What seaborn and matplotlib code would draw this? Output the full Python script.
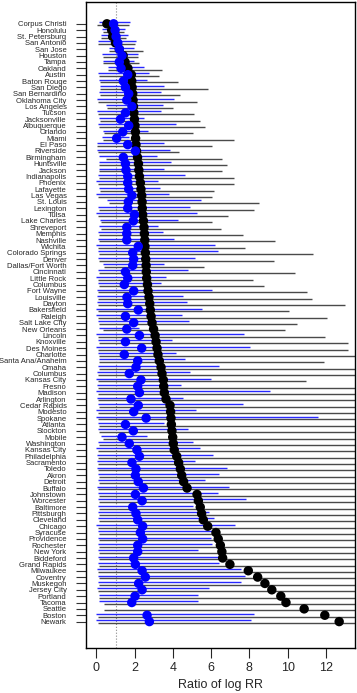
import numpy as np
import pandas as pd
import matplotlib
matplotlib.use("Agg")
import matplotlib.pyplot as plt
import seaborn as sns

# ── Data ──────────────────────────────────────────────────────────────────────

CITIES = [
    "Corpus Christi", "Honolulu", "St. Petersburg", "San Antonio", "San Jose",
    "Houston", "Tampa", "Oakland", "Austin", "Baton Rouge", "San Diego",
    "San Bernardino", "Oklahoma City", "Los Angeles", "Tucson", "Jacksonville",
    "Albuquerque", "Orlando", "Miami", "El Paso", "Riverside", "Birmingham",
    "Huntsville", "Jackson", "Indianapolis", "Phoenix", "Lafayette", "Las Vegas",
    "St. Louis", "Lexington", "Tulsa", "Lake Charles", "Shreveport", "Memphis",
    "Nashville", "Wichita", "Colorado Springs", "Denver", "Dallas/Fort Worth",
    "Cincinnati", "Little Rock", "Columbus", "Fort Wayne", "Louisville", "Dayton",
    "Bakersfield", "Raleigh", "Salt Lake City", "New Orleans", "Lincoln",
    "Knoxville", "Des Moines", "Charlotte", "Santa Ana/Anaheim", "Omaha",
    "Columbus", "Kansas City", "Fresno", "Madison", "Arlington", "Cedar Rapids",
    "Modesto", "Spokane", "Atlanta", "Stockton", "Mobile", "Washington",
    "Kansas City", "Philadelphia", "Sacramento", "Toledo", "Akron", "Detroit",
    "Buffalo", "Johnstown", "Worcester", "Baltimore", "Pittsburgh", "Cleveland",
    "Chicago", "Syracuse", "Providence", "Rochester", "New York", "Biddeford",
    "Grand Rapids", "Milwaukee", "Coventry", "Muskegon", "Jersey City",
    "Portland", "Tacoma", "Seattle", "Boston", "Newark",
]

BLACK_EST = [
    0.55, 0.80, 0.85, 1.00, 1.20, 1.40, 1.50, 1.65,
    1.83, 1.85, 1.87, 1.90, 1.92, 1.94, 1.96, 1.99, 2.02, 2.04, 2.05, 2.07,
    2.10, 2.15, 2.20,
    2.22, 2.25, 2.30, 2.33, 2.37, 2.39, 2.40, 2.42, 2.46, 2.49, 2.51, 2.53,
    2.54, 2.56, 2.58, 2.60, 2.61, 2.63, 2.67, 2.70, 2.75, 2.79, 2.82, 2.86,
    2.91, 2.99, 3.07, 3.12, 3.17, 3.22, 3.29, 3.38, 3.43, 3.50, 3.52, 3.55,
    3.64, 3.85, 3.88, 3.90, 3.92, 3.95, 3.99, 4.02, 4.07, 4.20, 4.30, 4.39,
    4.46, 4.56, 4.74, 5.26, 5.33, 5.43, 5.50, 5.59, 5.82, 6.25, 6.37, 6.48,
    6.56, 6.60, 6.98, 7.94, 8.43, 8.81, 9.17, 9.64, 9.91, 10.86, 11.94, 12.69,
]
BLACK_LO = [
    0.02, 0.33, 0.25, 0.07, 0.65, 0.33, 0.33, 0.59, 0.12, 0.19, 0.19, 0.19,
    0.07, 0.54, 0.07, 0.19, 0.12, 0.42, 0.33, 0.04, 0.07, 0.51, 0.16,
    0.16, 0.16, 0.07, 0.19, 0.07, 0.65, 0.16, 0.07, 0.25, 0.25, 0.12, 0.12,
    0.07, 0.12, 0.12, 0.42, 0.16, 0.07, 0.16, 0.07, 0.07, 0.07, 0.07, 0.07,
    0.16, 0.33, 0.07, 0.16, 0.07, 0.12, 0.16, 0.12, 0.07, 0.07, 0.07, 0.07,
    0.07, 0.12, 0.07, 0.07, 0.16, 0.16, 0.33, 0.12, 0.07, 0.07, 0.07, 0.07,
    0.16, 0.16, 0.07, 0.16, 0.16, 0.16, 0.12, 0.12, 0.07, 0.12, 0.12, 0.16,
    0.16, 0.16, 0.16, 0.07, 0.16, 0.16, 0.07, 0.16, 0.42, 0.42, 0.07, 0.07,
]
BLACK_HI = [
    1.73, 1.46, 1.55, 2.04, 2.46, 2.16, 2.25, 3.43, 3.26, 4.25, 5.82, 4.37,
    5.24, 3.99, 5.12, 5.42, 5.69, 5.03, 7.21, 6.04, 4.30, 6.55, 6.81,
    6.55, 7.21, 7.21, 6.16, 6.04, 8.52, 8.22, 6.90, 6.03, 6.51, 7.64, 9.33,
    7.79, 11.30, 9.26, 5.61, 10.40, 8.17, 8.78, 10.99, 11.27, 13.00, 10.05, 12.08,
    10.46, 9.86, 11.94, 13.13, 13.13, 14.0, 11.91, 14.0, 14.0, 10.95, 14.0, 14.0,
    14.0, 14.0, 14.0, 14.0, 14.0, 14.0, 14.0, 14.0, 14.0, 14.0, 14.0, 14.0,
    14.0, 14.0, 14.0, 14.0, 14.0, 14.0, 14.0, 14.0, 14.0, 14.0, 14.0, 14.0,
    14.0, 14.0, 14.0, 14.0, 14.0, 14.0, 14.0, 14.0, 14.0, 14.0, 14.0, 14.0,
]

BLUE_EST = [
    0.90, 0.98, 1.03, 1.12, 1.20, 1.34, 1.20, 1.29, 1.64, 1.41, 1.52, 1.69,
    1.59, 1.86, 1.52, 1.26, 1.69, 1.38, 1.06, 1.64, 2.04, 1.41, 1.52,
    1.55, 1.64, 1.64, 1.69, 1.86, 1.67, 1.64, 1.99, 1.93, 1.59, 1.59, 1.59,
    2.19, 1.90, 1.95, 1.90, 1.52, 1.64, 1.46, 1.95, 1.60, 1.64, 2.19, 1.52,
    1.95, 1.59, 2.25, 1.52, 2.37, 1.46, 2.16, 2.07, 1.72, 2.33, 2.16, 2.25,
    1.81, 2.19, 1.95, 2.60, 1.52, 1.93, 1.34, 1.72, 2.12, 2.25, 1.86, 2.07,
    2.04, 2.19, 2.46, 2.04, 2.39, 1.90, 2.07, 2.16, 2.42, 2.30, 2.42, 2.16,
    2.16, 1.95, 2.04, 2.39, 2.56, 2.21, 2.39, 2.02, 1.85, np.nan, 2.65, 2.77,
]
BLUE_LO = [
    0.12, 0.30, 0.25, 0.07, 0.68, 0.30, 0.33, 0.59, 0.07, 0.16, 0.19, 0.16,
    0.02, 0.51, 0.02, 0.16, 0.07, 0.33, 0.30, 0.02, 0.02, 0.12, 0.12,
    0.12, 0.07, 0.00, 0.16, 0.00, 0.54, 0.07, 0.00, 0.19, 0.16, 0.07, 0.07,
    0.00, 0.07, 0.07, 0.37, 0.07, 0.00, 0.07, 0.02, 0.02, 0.02, 0.00, 0.00,
    0.07, 0.16, 0.00, 0.07, 0.00, 0.07, 0.12, 0.07, 0.02, 0.00, 0.02, 0.00,
    0.02, 0.07, 0.00, 0.00, 0.07, 0.07, 0.25, 0.07, 0.00, 0.02, 0.02, 0.02,
    0.07, 0.07, 0.02, 0.07, 0.07, 0.07, 0.07, 0.07, 0.00, 0.07, 0.07, 0.07,
    0.07, 0.07, 0.07, 0.02, 0.07, 0.07, 0.02, 0.12, 0.12, np.nan, 0.00, 0.00,
]
BLUE_HI = [
    1.76, 1.52, 1.67, 2.07, 1.99, 2.20, 1.99, 2.51, 2.73, 2.63, 3.55, 3.38,
    4.07, 3.50, 3.38, 2.51, 4.16, 2.72, 1.69, 3.52, 3.87, 3.15, 3.90,
    3.52, 4.65, 3.24, 3.33, 3.78, 5.47, 4.89, 5.26, 4.25, 3.20, 3.47, 4.04,
    6.20, 6.34, 5.17, 3.52, 4.81, 3.64, 3.38, 6.04, 4.51, 4.74, 5.50, 4.46,
    4.82, 2.25, 7.73, 3.95, 8.03, 4.16, 4.65, 6.43, 4.91, 5.99, 4.42, 9.07,
    4.51, 7.68, 5.21, 11.56, 3.52, 4.81, 2.63, 5.03, 5.42, 6.11, 5.16, 6.81,
    6.43, 5.69, 6.91, 6.37, 7.82, 5.07, 5.90, 6.17, 7.26, 6.08, 5.99, 6.04,
    5.30, 6.43, 6.43, 7.56, 7.78, 7.56, 5.87, 5.30, 5.33, np.nan, 8.25, 8.08,
]

# ── Style ─────────────────────────────────────────────────────────────────────

sns.set_style("ticks")
plt.rcParams["font.family"] = ["Liberation Sans", "DejaVu Sans"]

df = pd.DataFrame({
    "city": CITIES,
    "row": np.arange(len(CITIES)),
    "black_est": BLACK_EST, "black_lo": BLACK_LO, "black_hi": BLACK_HI,
    "blue_est": BLUE_EST, "blue_lo": BLUE_LO, "blue_hi": BLUE_HI,
})
blue_df = df.dropna(subset=["blue_est"])

fig = plt.figure(figsize=(3.57, 6.93), dpi=100)
ax = fig.add_axes([0.241, 0.0654, 0.753, 0.932])

# interval lines: blue just above the row, black just below
ax.hlines(df["row"] + 0.22, df["black_lo"], df["black_hi"],
          color="#4a4a4a", lw=1.0, zorder=1)
ax.hlines(blue_df["row"] - 0.22, blue_df["blue_lo"], blue_df["blue_hi"],
          color="#2828ff", lw=1.0, zorder=2)
ax.axvline(1, color="#888888", ls=":", lw=0.8, zorder=0)

sns.scatterplot(data=df, x="black_est", y="row", color="black", s=46,
                edgecolor="none", ax=ax, zorder=3, legend=False)
sns.scatterplot(data=blue_df, x="blue_est", y="row", color="#0000ff", s=46,
                edgecolor="none", ax=ax, zorder=4, legend=False)

ax.set_xlim(-0.54, 13.51)
ax.set_ylim(98.1, -3.46)
ax.set_xticks(np.arange(0, 13, 2))
ax.set_xticklabels([str(v) for v in range(0, 13, 2)], fontsize=9)
ax.set_yticks(df["row"])
ax.set_yticklabels(df["city"], fontsize=5.5)
ax.tick_params(axis="y", length=7, width=0.8, pad=7, color="#333333")
ax.tick_params(axis="x", length=7, width=0.8, pad=3)
ax.set_xlabel("Ratio of log RR", fontsize=9, labelpad=4)
ax.set_ylabel("")
for sp in ax.spines.values():
    sp.set_visible(True)
    sp.set_color("black")
    sp.set_linewidth(1.0)

fig.savefig("out.png", dpi=100)
